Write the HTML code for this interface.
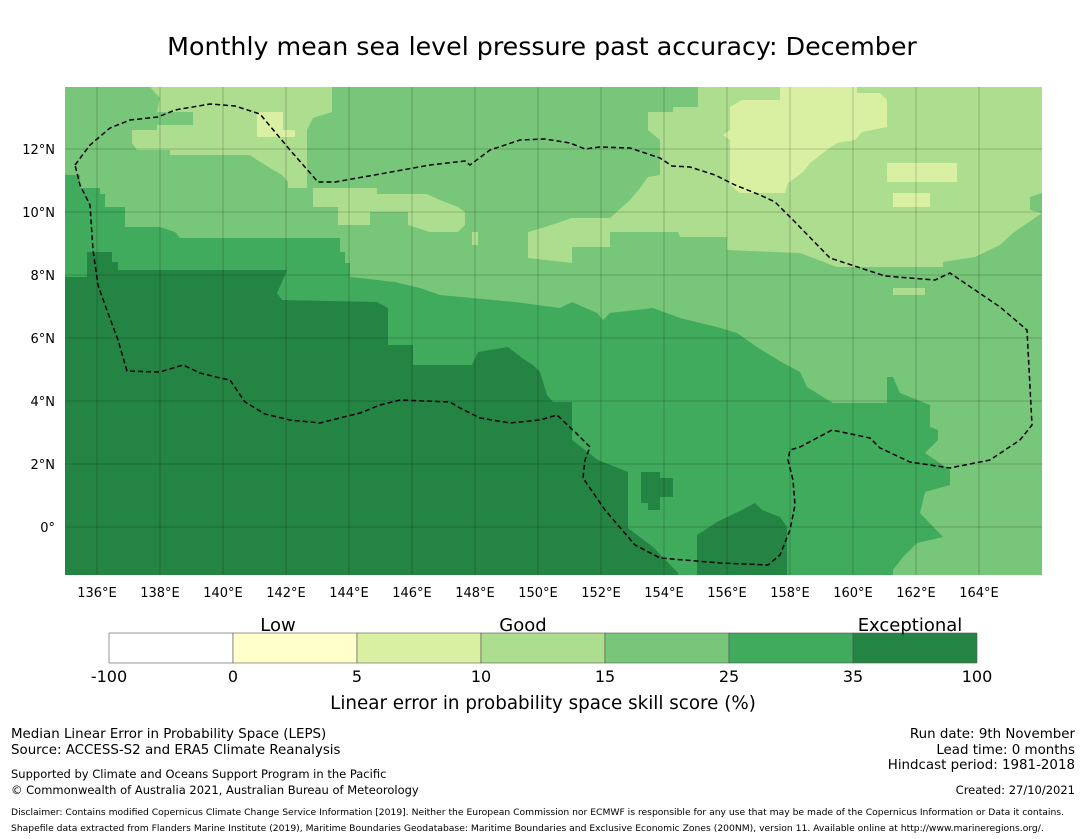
<!DOCTYPE html>
<html><head><meta charset="utf-8"><style>
body{margin:0;background:#fff;width:1085px;height:839px;overflow:hidden;font-family:"DejaVu Sans","Liberation Sans",sans-serif}
svg{position:absolute;left:0;top:0;font-family:"DejaVu Sans","Liberation Sans",sans-serif}
</style></head><body>
<svg id="s" width="1085" height="839" xmlns="http://www.w3.org/2000/svg">
<text x="542" y="55" text-anchor="middle" font-size="25.3" fill="#000">Monthly mean sea level pressure past accuracy: December</text>
<defs><clipPath id="mc"><rect x="65" y="87" width="977" height="488"/></clipPath></defs>
<g id="map" clip-path="url(#mc)">
<rect x="65" y="87" width="977" height="488" fill="#78c679"/>
</g>
<g id="bar"></g>
<text x="543" y="709" text-anchor="middle" font-size="18.3">Linear error in probability space skill score (%)</text>
<text x="278" y="631" text-anchor="middle" font-size="18">Low</text>
<text x="523" y="631" text-anchor="middle" font-size="18">Good</text>
<text x="910" y="631" text-anchor="middle" font-size="18">Exceptional</text>
<g font-size="13.4">
<text x="11" y="738">Median Linear Error in Probability Space (LEPS)</text>
<text x="11" y="754">Source: ACCESS-S2 and ERA5 Climate Reanalysis</text>
<text x="11" y="778" font-size="11.5">Supported by Climate and Oceans Support Program in the Pacific</text>
<text x="11" y="794" font-size="11.5">© Commonwealth of Australia 2021, Australian Bureau of Meteorology</text>
</g>
<g font-size="13.4" text-anchor="end">
<text x="1075" y="738">Run date: 9th November</text>
<text x="1075" y="754">Lead time: 0 months</text>
<text x="1075" y="769">Hindcast period: 1981-2018</text>
<text x="1075" y="794" font-size="11.5">Created: 27/10/2021</text>
</g>
<text x="11" y="815" font-size="9.2">Disclaimer: Contains modified Copernicus Climate Change Service Information [2019]. Neither the European Commission nor ECMWF is responsible for any use that may be made of the Copernicus Information or Data it contains.</text>
<text x="11" y="831" font-size="9.2">Shapefile data extracted from Flanders Marine Institute (2019), Maritime Boundaries Geodatabase: Maritime Boundaries and Exclusive Economic Zones (200NM), version 11. Available online at http://www.marineregions.org/.</text>
</svg>
<script>
const NS="http://www.w3.org/2000/svg";
const svg=document.getElementById('s'),map=document.getElementById('map'),bar=document.getElementById('bar');
// colorbar data
const binEdges=[-100,0,5,10,15,25,35,100];
const binColors=["#ffffff","#ffffcc","#d9f0a3","#addd8e","#78c679","#41ab5d","#238443"];
const lonTicks=[136,138,140,142,144,146,148,150,152,154,156,158,160,162,164];
const latTicks=[0,2,4,6,8,10,12];
const lonX=l=>97+(l-136)*31.5, latY=v=>527-v*31.5;
function poly(pts,fill,name){const p=document.createElementNS(NS,'polygon');p.setAttribute('points',pts.map(a=>a.join(',')).join(' '));p.setAttribute('fill',fill);


map.appendChild(p);}
poly([[150,87],[332,87],[332,112],[313,118],[307,130],[307,188],[377,188],[377,194],[427,194],[440,200],[458,207],[465,212],[465,225],[458,232],[430,232],[408,225],[408,212],[370,212],[370,225],[338,225],[338,207],[313,207],[313,188],[288,188],[288,182],[282,175],[270,168],[257,160],[250,155],[170,155],[170,150],[137,150],[132,143],[132,130],[157,130],[157,125],[193,125],[193,112],[157,112],[160,98]],"#addd8e","light-region-west");
poly([[232,118],[238,118],[238,137],[232,137]],"#addd8e","light-patch");
poly([[472,232],[478,232],[478,245],[472,245]],"#addd8e","light-patch-2");
poly([[545,227],[572,218],[610,218],[630,200],[640,188],[648,177],[660,175],[660,140],[648,130],[648,112],[673,112],[673,107],[698,107],[698,87],[1042,87],[1042,193],[1030,197],[1030,210],[1042,213],[1013,233],[1000,245],[975,257],[943,262],[943,267],[837,267],[800,253],[727,250],[727,237],[680,237],[678,232],[610,232],[610,247],[572,247],[572,263],[528,258],[528,232]],"#addd8e","light-region-east");
poly([[893,288],[925,288],[925,295],[893,295]],"#addd8e","light-patch-3");
poly([[730,107],[742,100],[780,100],[780,87],[857,87],[857,93],[880,93],[887,100],[887,127],[862,132],[855,140],[837,143],[827,150],[818,157],[810,163],[803,172],[795,178],[788,183],[785,193],[740,193],[730,185],[730,140],[723,135],[730,130]],"#d9f0a3","yellow-region");
poly([[887,163],[957,163],[957,182],[887,182]],"#d9f0a3","yellow-patch");
poly([[893,193],[930,193],[930,207],[893,207]],"#d9f0a3","yellow-patch-2");
poly([[257,112],[283,112],[283,130],[295,130],[295,137],[257,137]],"#d9f0a3","yellow-patch-3");
poly([[65,175],[80,175],[80,188],[100,188],[100,194],[105,194],[105,207],[125,207],[125,227],[160,227],[175,232],[180,238],[340,238],[340,252],[345,252],[345,263],[350,263],[350,277],[395,282],[420,288],[440,295],[515,302],[560,308],[572,302],[597,313],[603,320],[610,313],[653,308],[680,318],[717,327],[737,333],[757,347],[783,363],[800,372],[807,387],[823,397],[833,403],[887,403],[887,377],[893,377],[900,393],[930,405],[930,427],[938,430],[938,440],[925,453],[950,470],[950,485],[925,492],[920,513],[943,537],[917,543],[903,557],[893,570],[893,580],[65,580]],"#41ab5d","medium-dark-region");
poly([[65,277],[87,277],[87,252],[112,252],[112,262],[118,262],[118,270],[287,270],[282,282],[277,293],[282,300],[377,302],[388,308],[388,345],[413,345],[413,365],[472,365],[478,352],[508,347],[522,358],[533,365],[540,372],[547,395],[553,402],[572,402],[572,440],[598,460],[628,472],[628,528],[653,547],[678,573],[678,580],[65,580]],"#238443","dark-region");
poly([[697,580],[697,535],[717,522],[742,510],[755,503],[762,510],[780,517],[787,527],[787,580]],"#238443","dark-region-2");
poly([[641,472],[660,472],[660,478],[673,478],[673,497],[660,497],[660,510],[648,510],[648,503],[641,503]],"#238443","dark-spot");
// grid
lonTicks.forEach(l=>{const x=lonX(l);const ln=document.createElementNS(NS,'line');ln.setAttribute('x1',x);ln.setAttribute('x2',x);ln.setAttribute('y1',87);ln.setAttribute('y2',575);ln.setAttribute('stroke','rgba(0,0,0,0.25)');ln.setAttribute('stroke-width','0.8');


map.appendChild(ln);
const t=document.createElementNS(NS,'text');t.setAttribute('x',x);t.setAttribute('y',597);t.setAttribute('text-anchor','middle');t.setAttribute('font-size','13');t.textContent=l+'°E';


svg.appendChild(t);});
latTicks.forEach(v=>{const y=latY(v);const ln=document.createElementNS(NS,'line');ln.setAttribute('x1',65);ln.setAttribute('x2',1042);ln.setAttribute('y1',y);ln.setAttribute('y2',y);ln.setAttribute('stroke','rgba(0,0,0,0.25)');ln.setAttribute('stroke-width','0.8');


map.appendChild(ln);
const t=document.createElementNS(NS,'text');t.setAttribute('x',55);t.setAttribute('y',y+5);t.setAttribute('text-anchor','end');t.setAttribute('font-size','13');t.textContent=v===0?'0°':v+'°N';


svg.appendChild(t);});
// EEZ boundary
const eez=[[75,165],[90,145],[110,128],[130,120],[158,117],[175,110],[210,104],[235,106],[260,114],[290,150],[318,182],[335,182],[380,174],[430,165],[465,161],[470,165],[490,150],[520,140],[545,139],[570,143],[585,149],[600,147],[630,148],[660,158],[672,166],[690,167],[715,175],[735,185],[760,195],[775,202],[795,222],[830,258],[885,276],[935,280],[950,273],[1000,307],[1027,330],[1032,425],[1020,440],[990,460],[950,468],[910,462],[880,448],[870,438],[832,430],[800,447],[790,450],[788,460],[793,480],[795,505],[790,530],[780,555],[768,565],[720,563],[660,558],[635,545],[605,510],[583,478],[585,460],[590,447],[575,432],[557,415],[540,420],[510,423],[480,418],[460,408],[450,402],[400,400],[380,405],[360,413],[320,423],[290,420],[265,414],[245,402],[230,380],[220,378],[200,373],[183,365],[160,372],[127,371],[118,340],[105,305],[98,285],[93,250],[90,205],[80,185],[75,165]];
const pl=document.createElementNS(NS,'polyline');pl.setAttribute('points',eez.map(a=>a.join(',')).join(' '));pl.setAttribute('fill','none');pl.setAttribute('stroke','#000');pl.setAttribute('stroke-width','1.5');pl.setAttribute('stroke-dasharray','5,3');


map.appendChild(pl);
// colorbar
const bx0=109,bx1=977,bw=(bx1-bx0)/binColors.length;
binColors.forEach((c,i)=>{const r=document.createElementNS(NS,'rect');r.setAttribute('x',bx0+i*bw);r.setAttribute('y',633);r.setAttribute('width',bw);r.setAttribute('height',30);r.setAttribute('fill',c);r.setAttribute('stroke','#555');r.setAttribute('stroke-width','0.6');


bar.appendChild(r);});
binEdges.forEach((v,i)=>{const t=document.createElementNS(NS,'text');t.setAttribute('x',bx0+i*bw);t.setAttribute('y',682);t.setAttribute('text-anchor','middle');t.setAttribute('font-size','16');t.textContent=v;


bar.appendChild(t);});
</script>
</body></html>
